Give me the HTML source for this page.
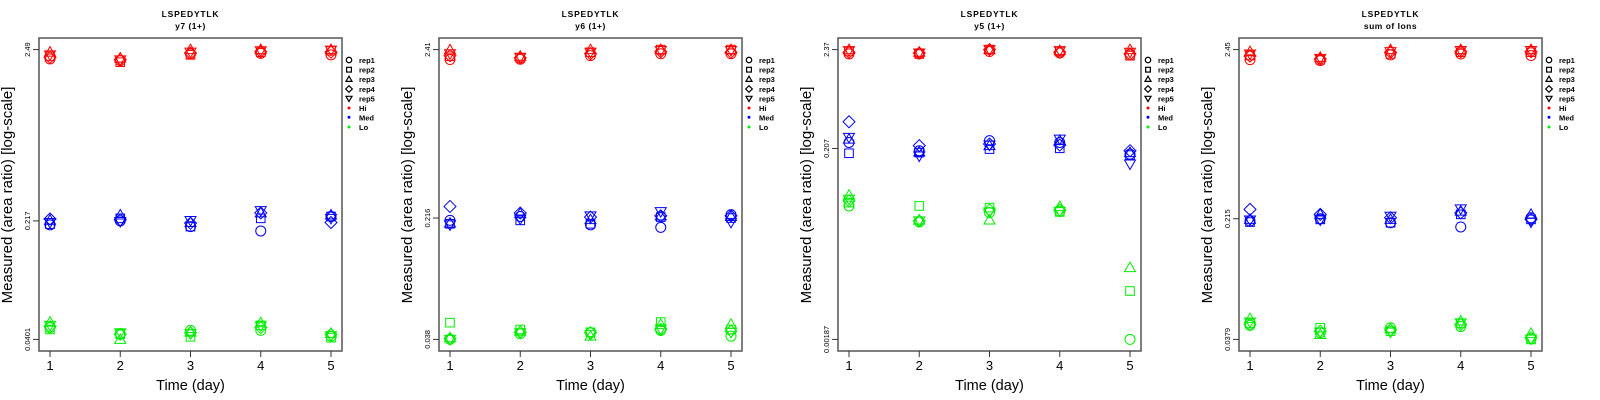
<!DOCTYPE html>
<html><head><meta charset="utf-8"><style>
body{margin:0;background:#fff;width:1600px;height:400px;overflow:hidden}
svg{display:block}
text{font-family:"Liberation Sans",sans-serif}
</style></head><body>
<svg id="chart" width="1600" height="400" xmlns="http://www.w3.org/2000/svg"></svg>
<script>
const days=[1,2,3,4,5];
const reps=["rep1","rep2","rep3","rep4","rep5"];
const levels=["Hi","Med","Lo"];
const levelColors=["#ff0000","#0000ff","#00ee00"];
const panelTitles=["y7 (1+)","y6 (1+)","y5 (1+)","sum of Ions"];
const yTicks1=[0.0401,0.217,2.49];
const yTicks2=[0.038,0.216,2.41];
const yTicks3=[0.00187,0.207,2.37];
const yTicks4=[0.0379,0.215,2.45];
// values[day][rep]
const p1Hi=[[2.18,2.26,2.40,2.23,2.31],[2.13,2.08,2.21,2.16,2.15],[2.34,2.31,2.49,2.37,2.40],[2.36,2.40,2.49,2.42,2.45],[2.31,2.45,2.49,2.40,2.47]];
const p1Med=[[0.205,0.207,0.219,0.223,0.212],[0.217,0.225,0.236,0.220,0.215],[0.200,0.200,0.212,0.210,0.218],[0.188,0.225,0.243,0.243,0.251],[0.231,0.231,0.236,0.212,0.225]];
const p1Lo=[[0.0474,0.0462,0.0513,0.0480,0.0490],[0.0435,0.0431,0.0401,0.0431,0.0441],[0.0456,0.0416,0.0445,0.0441,0.0435],[0.0456,0.0490,0.0508,0.0474,0.0485],[0.0420,0.0411,0.0437,0.0431,0.0423]];
const p2Hi=[[2.09,2.19,2.40,2.21,2.27],[2.10,2.14,2.19,2.14,2.16],[2.21,2.32,2.41,2.27,2.32],[2.27,2.41,2.41,2.34,2.38],[2.27,2.41,2.41,2.32,2.38]];
const p2Med=[[0.209,0.199,0.201,0.255,0.196],[0.221,0.209,0.230,0.232,0.213],[0.196,0.199,0.211,0.219,0.223],[0.189,0.219,0.223,0.223,0.237],[0.227,0.216,0.221,0.223,0.203]];
const p2Lo=[[0.038,0.0483,0.0389,0.0384,0.038],[0.0412,0.0438,0.0428,0.0421,0.0418],[0.0418,0.0421,0.0398,0.0418,0.0407],[0.0432,0.0487,0.0471,0.0438,0.0441],[0.0398,0.0438,0.0471,0.0428,0.0421]];
const p3Hi=[[2.13,2.26,2.37,2.22,2.31],[2.13,2.13,2.22,2.18,2.18],[2.26,2.37,2.37,2.37,2.37],[2.18,2.26,2.31,2.22,2.31],[2.08,2.04,2.37,2.13,2.22]];
const p3Med=[[0.240,0.184,0.261,0.400,0.272],[0.196,0.187,0.190,0.222,0.172],[0.251,0.204,0.222,0.231,0.225],[0.240,0.208,0.251,0.225,0.261],[0.180,0.176,0.187,0.196,0.141]];
const p3Lo=[[0.0502,0.0545,0.0654,0.0569,0.0593],[0.0338,0.0502,0.0355,0.0347,0.0347],[0.0427,0.0482,0.0355,0.0455,0.0433],[0.0440,0.0433,0.0494,0.0455,0.0440],[0.00187,0.00617,0.01098,null,null]];
const p4Hi=[[2.12,2.25,2.38,2.23,2.30],[2.09,2.12,2.19,2.14,2.16],[2.27,2.30,2.45,2.36,2.38],[2.30,2.36,2.45,2.38,2.42],[2.25,2.36,2.45,2.38,2.42]];
const p4Med=[[0.208,0.205,0.213,0.246,0.211],[0.215,0.213,0.229,0.229,0.211],[0.203,0.203,0.213,0.218,0.223],[0.191,0.229,0.240,0.234,0.248],[0.218,0.213,0.229,0.213,0.205]];
const p4Lo=[[0.0464,0.0477,0.0511,0.0470,0.0487],[0.0417,0.0448,0.0407,0.0427,0.0421],[0.0448,0.0427,0.0441,0.0434,0.0421],[0.0456,0.0477,0.0494,0.0470,0.0481],[0.0382,0.0379,0.0413,0.0388,0.0382]];

const panels=[
 {off:0,ticks:yTicks1,series:[p1Hi,p1Med,p1Lo]},
 {off:400,ticks:yTicks2,series:[p2Hi,p2Med,p2Lo]},
 {off:799,ticks:yTicks3,series:[p3Hi,p3Med,p3Lo]},
 {off:1200,ticks:yTicks4,series:[p4Hi,p4Med,p4Lo]}
];
const NS="http://www.w3.org/2000/svg";
const svg=document.getElementById('chart');
function mk(tag,attrs,parent,txt){const e=document.createElementNS(NS,tag);for(const k in attrs)e.setAttribute(k,attrs[k]);if(txt!==undefined)e.textContent=txt;parent.appendChild(e);return e;}
function marker(g,shape,x,y,col){
  const r=5;let e;
  if(shape===0)e=mk('circle',{cx:x,cy:y,r:r},g);
  else if(shape===1)e=mk('rect',{x:x-4.3,y:y-4.3,width:8.6,height:8.6},g);
  else if(shape===2)e=mk('polygon',{points:`${x},${y-5.5} ${x-5.5},${y+4} ${x+5.5},${y+4}`},g);
  else if(shape===3)e=mk('polygon',{points:`${x},${y-6} ${x+6},${y} ${x},${y+6} ${x-6},${y}`},g);
  else e=mk('polygon',{points:`${x},${y+5.5} ${x-5.5},${y-4} ${x+5.5},${y-4}`},g);
  e.setAttribute('fill','none');e.setAttribute('stroke',col);e.setAttribute('stroke-width','1');
  return e;
}
panels.forEach((p,pi)=>{
  const g=mk('g',{},svg);
  
  
  const L=p.off+39,R=p.off+342,T=38,B=351;
  const xs=d=>L+11+(d-1)*(R-L-22)/4;
  const lo=Math.log10(p.ticks[0]),hi=Math.log10(p.ticks[2]);
  const pad=(hi-lo)*0.04;
  const ys=v=>B-(Math.log10(v)-(lo-pad))/((hi+pad)-(lo-pad))*(B-T);
  const cx=(L+R)/2;
  const t1=mk('text',{x:cx,y:17,'text-anchor':'middle','font-size':'8.5','font-weight':'bold','letter-spacing':'0.8'},g,'LSPEDYTLK');
  
  const t2=mk('text',{x:cx,y:29,'text-anchor':'middle','font-size':'8.5','font-weight':'bold','letter-spacing':'0.5'},g,panelTitles[pi]);
  
  p.series.forEach((ser,li)=>{
    ser.forEach((dv,di)=>{dv.forEach((v,ri)=>{
      if(v===null)return;
      const m=marker(g,ri,xs(days[di]),ys(v),levelColors[li]);
      
      
    });});
  });
  const box=mk('rect',{x:L,y:T,width:R-L,height:B-T,fill:'none',stroke:'#555','stroke-width':'1.5'},g);
  
  days.forEach(d=>{
    mk('line',{x1:xs(d),x2:xs(d),y1:B,y2:B+6,stroke:'#333'},g);
    const tl=mk('text',{x:xs(d),y:370,'text-anchor':'middle','font-size':'13'},g,String(d));
    
  });
  p.ticks.forEach(v=>{
    const y=ys(v);
    mk('line',{x1:L,x2:L-6,y1:y,y2:y,stroke:'#333'},g);
    const tl=mk('text',{x:0,y:0,'text-anchor':'middle','font-size':'7.5',transform:`translate(${L-9},${y}) rotate(-90)`},g,String(v));
    
  });
  const xt=mk('text',{x:cx,y:390,'text-anchor':'middle','font-size':'14.5'},g,'Time (day)');
  
  const yt=mk('text',{x:0,y:0,'text-anchor':'middle','font-size':'15',transform:`translate(${L-27},195) rotate(-90)`},g,'Measured (area ratio) [log-scale]');
  
  const lx=L+310,tx=L+320;
  const lg=mk('g',{},g);
  
  const rowsY=[60,69.7,79.2,89,98.5,108,117.3,127];
  reps.forEach((r,i)=>{
    const m=marker(lg,i,lx,rowsY[i],'#000');
    m.setAttribute('transform',`translate(${lx},${rowsY[i]}) scale(0.55) translate(${-lx},${-rowsY[i]})`);
    m.setAttribute('stroke-width','2.2');
    const t=mk('text',{x:tx,y:rowsY[i]+3,'font-size':'7.5','font-weight':'bold'},lg,r);
    
  });
  levels.forEach((l,i)=>{
    const y=rowsY[5+i];
    mk('circle',{cx:lx,cy:y,r:1.5,fill:levelColors[i]},lg);
    const t=mk('text',{x:tx,y:y+3,'font-size':'7.5','font-weight':'bold'},lg,l);
    
  });
});
</script>
</body></html>
